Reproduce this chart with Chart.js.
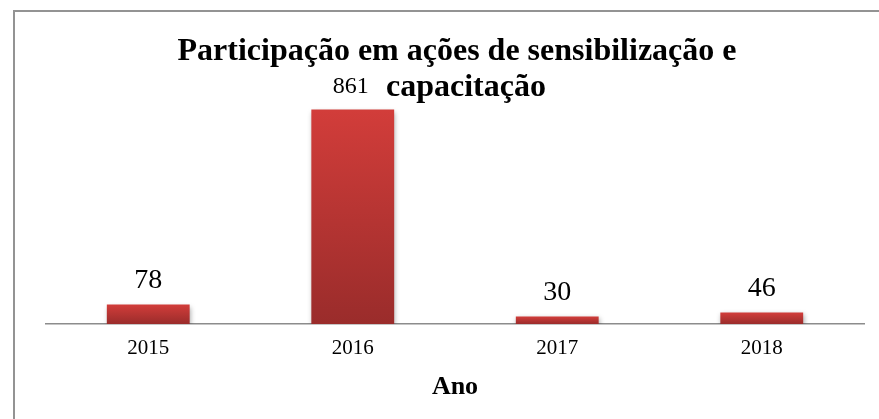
<!DOCTYPE html>
<html>
<head>
<meta charset="utf-8">
<script src="https://cdn.jsdelivr.net/npm/chart.js@4/dist/chart.umd.min.js"></script>
<style>
  body { margin: 0; background: #fff; }
  #wrap { position: relative; width: 879px; height: 419px; overflow: hidden; }
  #frame { position: absolute; left: 13px; top: 10px; width: 1000px; height: 1000px;
    border-left: 2px solid #939393; border-top: 2px solid #939393; }
  canvas { position: absolute; left: 0; top: 0; }
</style>
</head>
<body>
<div id="wrap">
  <div id="frame"></div>
  <canvas id="chart" width="879" height="419"></canvas>
</div>
<script>
// dados do gráfico
const anos = ["2015", "2016", "2017", "2018"];
const participantes = [78, 861, 30, 46];
const tituloLinhas = ["Participação em ações de sensibilização e", "capacitação"];
const tituloEixo = "Ano";

const serif = "'Liberation Serif', 'Times New Roman', serif";

// gradient per bar, lighter on top
function barGradient(context) {
  const chart = context.chart;
  const y = chart.scales.y;
  if (!chart.chartArea || !y) return "#c0383a";
  const top = y.getPixelForValue(context.raw);
  const bottom = y.getPixelForValue(0);
  const g = chart.ctx.createLinearGradient(0, top, 0, bottom);
  g.addColorStop(0, "#d23d3a");
  g.addColorStop(1, "#9a2c2b");
  return g;
}

// title + value labels + bar shadow
const extras = {
  id: "extras",
  beforeDatasetsDraw(chart) {
    const ctx = chart.ctx;
    ctx.save();
    ctx.shadowColor = "rgba(0,0,0,0.35)";
    ctx.shadowBlur = 5;
    ctx.shadowOffsetX = 1;
    ctx.shadowOffsetY = 2;
  },
  afterDatasetsDraw(chart) {
    const ctx = chart.ctx;
    ctx.restore();

    ctx.save();
    ctx.fillStyle = "#000";
    ctx.textAlign = "center";
    ctx.textBaseline = "alphabetic";
    ctx.font = "bold 32px " + serif;
    ctx.fillText(tituloLinhas[0], 457, 60);
    ctx.fillText(tituloLinhas[1], 466, 96);

    const meta = chart.getDatasetMeta(0);
    meta.data.forEach((bar, i) => {
      const size = participantes[i] > 500 ? 24 : 28;
      ctx.font = size + "px " + serif;
      ctx.fillText(String(participantes[i]), bar.x - (size < 28 ? 2 : 0), bar.y - 17);
    });
    ctx.restore();
  }
};

new Chart(document.getElementById("chart"), {
  type: "bar",
  data: {
    labels: anos,
    datasets: [{
      data: participantes,
      backgroundColor: barGradient,
      borderWidth: 0,
      barPercentage: 0.9,
      categoryPercentage: 0.45
    }]
  },
  options: {
    responsive: false,
    animation: false,
    events: [],
    layout: { padding: { left: 46, right: 15, top: 75, bottom: 0 } },
    plugins: {
      legend: { display: false },
      title: { display: false },
      tooltip: { enabled: false }
    },
    scales: {
      y: {
        display: false,
        min: 0,
        max: 1000
      },
      x: {
        grid: { display: false, drawTicks: false },
        border: { display: true, color: "#8c8c8c", width: 1.5 },
        ticks: { color: "#000", padding: 12, font: { family: serif, size: 21 } },
        title: {
          display: true,
          text: tituloEixo,
          color: "#000",
          font: { family: serif, size: 26, weight: "bold" },
          padding: { top: 4, bottom: 16 }
        },
        afterFit(scale) { scale.height = 95; }
      }
    }
  },
  plugins: [extras]
});
</script>
</body>
</html>
